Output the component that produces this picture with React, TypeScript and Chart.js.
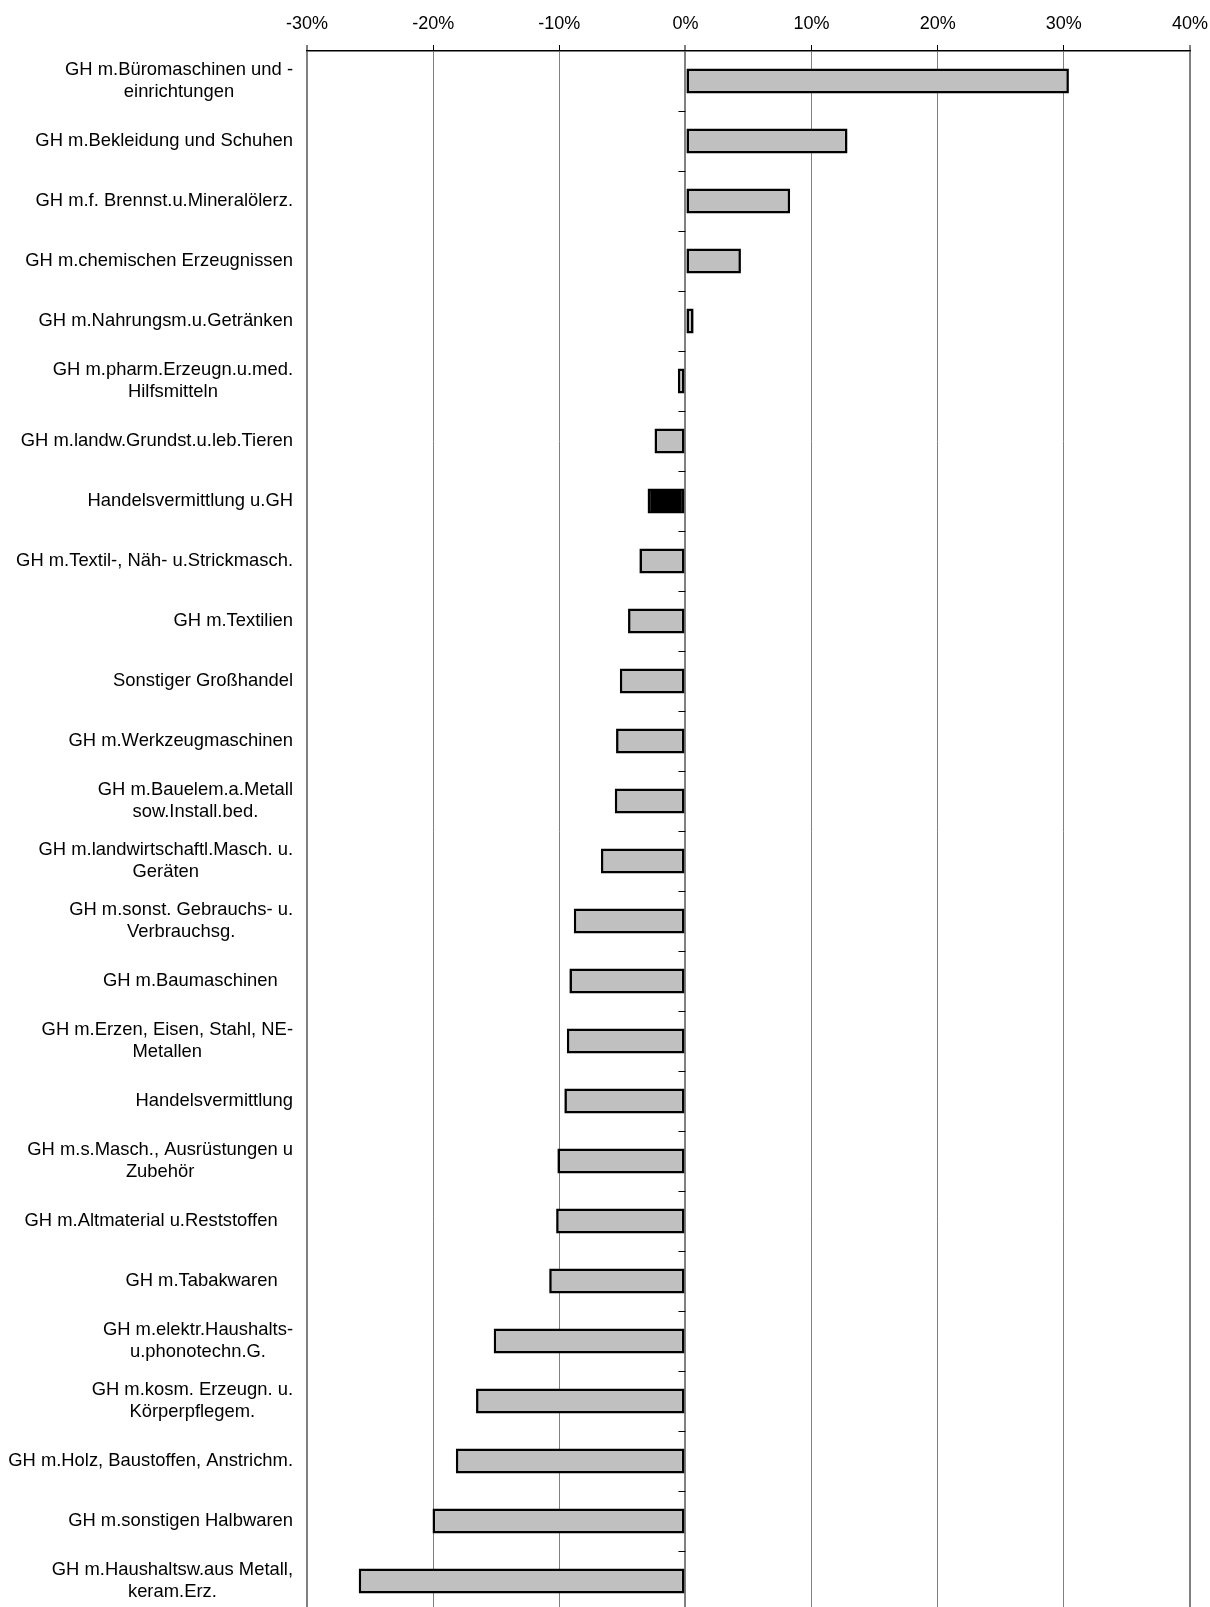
import React, { useEffect, useRef } from "react";
import { Chart, registerables } from "chart.js";

Chart.register(...registerables);

const categories: (string | string[])[] = [
  ["GH m.Büromaschinen und -", "einrichtungen"],
  "GH m.Bekleidung und Schuhen",
  "GH m.f. Brennst.u.Mineralölerz.",
  "GH m.chemischen Erzeugnissen",
  "GH m.Nahrungsm.u.Getränken",
  ["GH m.pharm.Erzeugn.u.med.", "Hilfsmitteln"],
  "GH m.landw.Grundst.u.leb.Tieren",
  "Handelsvermittlung u.GH",
  "GH m.Textil-, Näh- u.Strickmasch.",
  "GH m.Textilien",
  "Sonstiger Großhandel",
  "GH m.Werkzeugmaschinen",
  ["GH m.Bauelem.a.Metall", "sow.Install.bed."],
  ["GH m.landwirtschaftl.Masch. u.", "Geräten"],
  ["GH m.sonst. Gebrauchs- u.", "Verbrauchsg."],
  "GH m.Baumaschinen   ",
  ["GH m.Erzen, Eisen, Stahl, NE-", "Metallen"],
  "Handelsvermittlung",
  ["GH m.s.Masch., Ausrüstungen u", "Zubehör"],
  "GH m.Altmaterial u.Reststoffen   ",
  "GH m.Tabakwaren   ",
  ["GH m.elektr.Haushalts-", "u.phonotechn.G."],
  ["GH m.kosm. Erzeugn. u.", "Körperpflegem."],
  "GH m.Holz, Baustoffen, Anstrichm.",
  "GH m.sonstigen Halbwaren",
  ["GH m.Haushaltsw.aus Metall,", "keram.Erz."],
];

const changePercent: number[] = [
  30.4, 12.85, 8.3, 4.4, 0.65, -0.6, -2.45, -3.0, -3.65, -4.55, -5.2, -5.5, -5.6,
  -6.7, -8.85, -9.2, -9.4, -9.6, -10.15, -10.25, -10.8, -15.2, -16.6, -18.2,
  -20.05, -25.9,
];

const highlightedCategory = "Handelsvermittlung u.GH";

const xTickValues: number[] = [-30, -20, -10, 0, 10, 20, 30, 40];

const FONT_FAMILY = '"Liberation Sans", Arial, Helvetica, sans-serif';
const LABEL_FONT_SIZE = 18.4;
const LABEL_LINE_HEIGHT = 21.7;

const categoryLabelPlugin = {
  id: "categoryLabels",
  afterDraw(chart: any) {
    const { ctx, scales, chartArea } = chart;
    const yScale = scales.y;
    const xScale = scales.x;
    ctx.save();
    ctx.font = `${LABEL_FONT_SIZE}px ${FONT_FAMILY}`;
    ctx.fillStyle = "#000000";
    ctx.textBaseline = "middle";
    ctx.textAlign = "center";
    const right = chartArea.left - 14;
    const labels = chart.data.labels as (string | string[])[];
    labels.forEach((lab, i) => {
      const lines = Array.isArray(lab) ? lab : [lab];
      const w = Math.max(...lines.map((l) => ctx.measureText(l).width));
      const cx = right - w / 2;
      const cy = yScale.getPixelForValue(i);
      lines.forEach((l, k) => {
        ctx.fillText(l, cx, cy + (k - (lines.length - 1) / 2) * LABEL_LINE_HEIGHT);
      });
    });
    // small tick marks on the zero (category) axis between categories
    const x0 = xScale.getPixelForValue(0);
    ctx.strokeStyle = "#000000";
    ctx.lineWidth = 1;
    for (let i = 1; i < labels.length; i++) {
      const yb = (yScale.getPixelForValue(i - 1) + yScale.getPixelForValue(i)) / 2;
      const yy = Math.round(yb) + 0.5;
      ctx.beginPath();
      ctx.moveTo(x0 - 7, yy);
      ctx.lineTo(x0, yy);
      ctx.stroke();
    }
    ctx.restore();
  },
};

export default function App() {
  const canvasRef = useRef<HTMLCanvasElement | null>(null);

  useEffect(() => {
    if (!canvasRef.current) return;
    const colors = categories.map((c) =>
      (Array.isArray(c) ? c.join(" ") : c).trim() === highlightedCategory ? "#000000" : "#c0c0c0"
    );
    const chart = new Chart(canvasRef.current, {
      type: "bar",
      data: {
        labels: categories as any,
        datasets: [
          {
            data: changePercent,
            backgroundColor: colors,
            borderColor: "#000000",
            borderWidth: 2.6,
            borderSkipped: false,
            barPercentage: 25 / 60,
            categoryPercentage: 1,
          },
        ],
      },
      options: {
        indexAxis: "y",
        responsive: false,
        animation: false,
        devicePixelRatio: 1,
        layout: { padding: { left: 307, right: 20, top: 0, bottom: 0 } },
        plugins: {
          legend: { display: false },
          tooltip: { enabled: false },
        },
        scales: {
          x: {
            type: "linear",
            position: "top",
            min: -30,
            max: 40,
            afterBuildTicks: (scale: any) => {
              scale.ticks = xTickValues.map((v) => ({ value: v }));
            },
            afterFit: (scale: any) => {
              scale.height = 51;
              scale.paddingLeft = 0;
              scale.paddingRight = 0;
            },
            ticks: {
              color: "#000000",
              font: { family: FONT_FAMILY, size: 18 },
              padding: 10,
              maxRotation: 0,
              callback: (v: any) => `${v}%`,
            },
            grid: {
              color: "#808080",
              lineWidth: (ctx: any) => {
                const v = ctx.tick ? ctx.tick.value : null;
                return v === -30 || v === 40 || v === 0 ? 2 : 1;
              },
              tickColor: "#000000",
              tickWidth: 1,
              tickLength: 6,
              drawTicks: true,
            },
            border: { display: true, color: "#000000", width: 1.5 },
          },
          y: {
            type: "category",
            display: false,
            offset: true,
            grid: { display: false },
          },
        },
      },
      plugins: [categoryLabelPlugin],
    } as any);
    return () => chart.destroy();
  }, []);

  return (
    <div
      style={{
        position: "absolute",
        left: 0,
        top: 0,
        width: 1210,
        height: 1607,
        overflow: "hidden",
        background: "#ffffff",
      }}
    >
      <canvas ref={canvasRef} width={1210} height={1611} style={{ display: "block" }} />
    </div>
  );
}
